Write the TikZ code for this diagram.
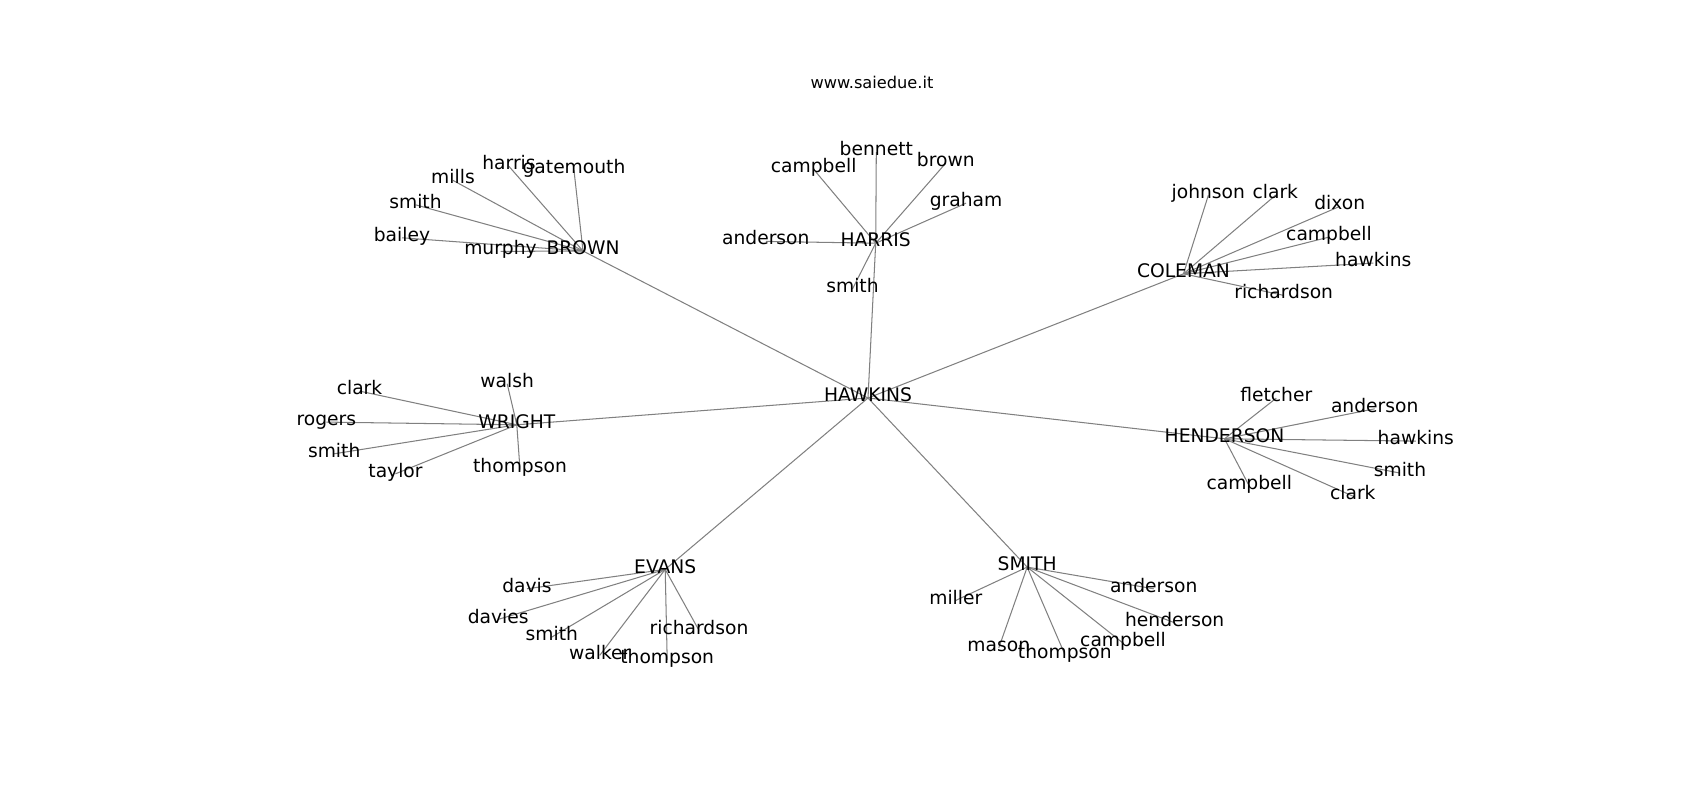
\documentclass[tikz,border=0pt]{standalone}
\usepackage{fontspec}
\setmainfont{DejaVu Sans}
\usetikzlibrary{backgrounds}
\tikzset{
  lbl/.style={inner sep=0pt, text height=0.76em, text depth=0.24em, font=\fontsize{13.5pt}{16pt}\selectfont, text=black},
  ttl/.style={inner sep=0pt, text height=0.76em, text depth=0.24em, font=\fontsize{11.7pt}{14pt}\selectfont, text=black},
  edge/.style={draw=gray, line width=0.75pt}
}
\begin{document}
\begin{tikzpicture}[x=0.01in,y=-0.01in]
\useasboundingbox (0,0) rectangle (1700,800);
\begin{scope}[shift={(0,2)}]
\node[ttl] (title) at (872,82.5) {www.saiedue.it};
% hubs
\node[lbl] (hawkins) at (868,396) {HAWKINS};
\node[lbl] (brown) at (583,249) {BROWN};
\node[lbl] (harris) at (875.7,241.2) {HARRIS};
\node[lbl] (coleman) at (1183.5,271.8) {COLEMAN};
\node[lbl] (wright) at (516.8,422.8) {WRIGHT};
\node[lbl] (henderson) at (1224.5,436.8) {HENDERSON};
\node[lbl] (evans) at (665.2,567.4) {EVANS};
\node[lbl] (smith) at (1027.2,565.1) {SMITH};
% BROWN leaves
\node[lbl] (b1) at (509,164.4) {harris};
\node[lbl] (b2) at (574,168.4) {gatemouth};
\node[lbl] (b3) at (453,178.4) {mills};
\node[lbl] (b4) at (415.5,202.8) {smith};
\node[lbl] (b5) at (402,235.8) {bailey};
\node[lbl] (b6) at (500.5,249.4) {murphy};
% HARRIS leaves
\node[lbl] (h1) at (876.3,150.1) {bennett};
\node[lbl] (h2) at (813.7,167.4) {campbell};
\node[lbl] (h3) at (945.8,161.1) {brown};
\node[lbl] (h4) at (966,201.2) {graham};
\node[lbl] (h5) at (765.8,239.4) {anderson};
\node[lbl] (h6) at (852.5,286.9) {smith};
% COLEMAN leaves
\node[lbl] (c1) at (1208.3,193.4) {johnson};
\node[lbl] (c2) at (1275.3,193.4) {clark};
\node[lbl] (c3) at (1339.7,204.4) {dixon};
\node[lbl] (c4) at (1329,235.1) {campbell};
\node[lbl] (c5) at (1373.3,261.1) {hawkins};
\node[lbl] (c6) at (1283.7,293.4) {richardson};
% WRIGHT leaves
\node[lbl] (w1) at (359.5,389.1) {clark};
\node[lbl] (w2) at (507.2,381.8) {walsh};
\node[lbl] (w3) at (326.3,420.1) {rogers};
\node[lbl] (w4) at (334.2,451.8) {smith};
\node[lbl] (w5) at (395.5,471.8) {taylor};
\node[lbl] (w6) at (520,467.4) {thompson};
% HENDERSON leaves
\node[lbl] (e1) at (1276.3,396.1) {fletcher};
\node[lbl] (e2) at (1374.7,406.8) {anderson};
\node[lbl] (e3) at (1415.8,439.1) {hawkins};
\node[lbl] (e4) at (1400,471.1) {smith};
\node[lbl] (e5) at (1249.3,484.1) {campbell};
\node[lbl] (e6) at (1352.8,494.1) {clark};
% EVANS leaves
\node[lbl] (v1) at (527,586.8) {davis};
\node[lbl] (v2) at (498.2,617.4) {davies};
\node[lbl] (v3) at (551.8,635.1) {smith};
\node[lbl] (v4) at (599.7,653.4) {walker};
\node[lbl] (v5) at (667.2,657.8) {thompson};
\node[lbl] (v6) at (699,628.4) {richardson};
% SMITH leaves
\node[lbl] (s1) at (1153.7,586.8) {anderson};
\node[lbl] (s2) at (955.8,598.4) {miller};
\node[lbl] (s3) at (1174.7,620.8) {henderson};
\node[lbl] (s4) at (1123,641.1) {campbell};
\node[lbl] (s5) at (998.8,645.8) {mason};
\node[lbl] (s6) at (1064.8,652.4) {thompson};
\end{scope}
\begin{scope}[on background layer]
\foreach \h in {brown,harris,coleman,wright,henderson,evans,smith}
  \draw[edge] (hawkins.center) -- (\h.center);
\foreach \l in {b1,b2,b3,b4,b5,b6}
  \draw[edge] (brown.center) -- (\l.center);
\foreach \l in {h1,h2,h3,h4,h5,h6}
  \draw[edge] (harris.center) -- (\l.center);
\foreach \l in {c1,c2,c3,c4,c5,c6}
  \draw[edge] (coleman.center) -- (\l.center);
\foreach \l in {w1,w2,w3,w4,w5,w6}
  \draw[edge] (wright.center) -- (\l.center);
\foreach \l in {e1,e2,e3,e4,e5,e6}
  \draw[edge] (henderson.center) -- (\l.center);
\foreach \l in {v1,v2,v3,v4,v5,v6}
  \draw[edge] (evans.center) -- (\l.center);
\foreach \l in {s1,s2,s3,s4,s5,s6}
  \draw[edge] (smith.center) -- (\l.center);
\end{scope}
\end{tikzpicture}
\end{document}
